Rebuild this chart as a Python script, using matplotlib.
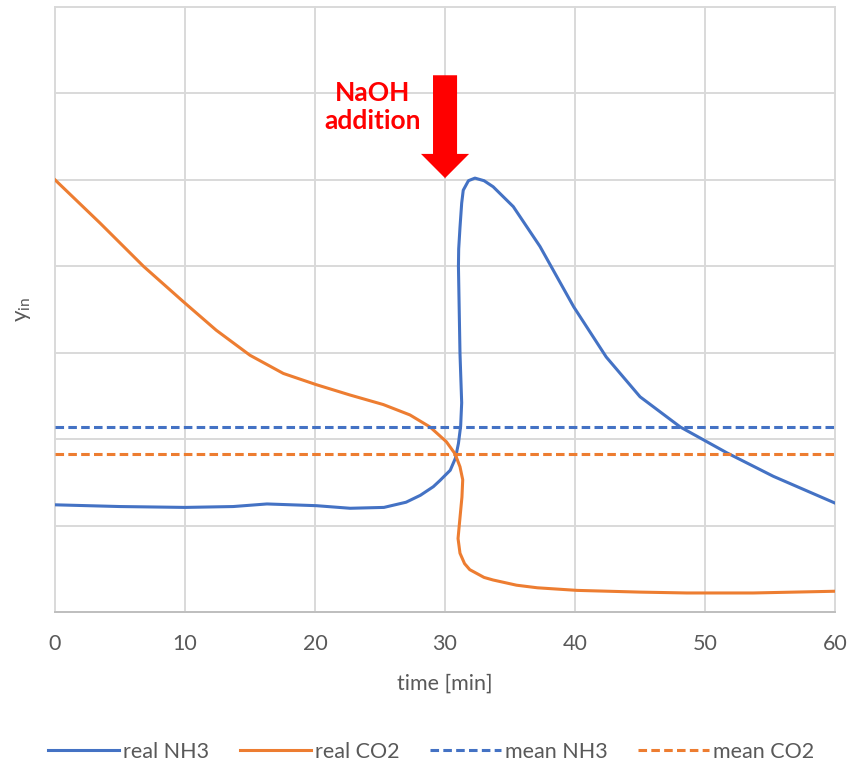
import matplotlib
matplotlib.use('Agg')
import matplotlib.pyplot as plt

# values
nh3_t = [0, 5, 10, 13.7, 16.3, 20.1, 22.7, 25.3, 27.0, 28.1, 29.1, 29.6,
         30.4, 30.8, 31.03, 31.2, 31.28, 31.15, 31.03, 31.05, 31.15, 31.28,
         31.4, 31.8, 32.3, 33.0, 33.7, 35.25, 37.3, 39.9, 42.4, 45.0, 48.1,
         51.7, 55.25, 60]
nh3_y = [1.24, 1.22, 1.21, 1.22, 1.25, 1.23, 1.20, 1.21, 1.27, 1.35, 1.45,
         1.52, 1.64, 1.78, 1.95, 2.15, 2.42, 2.99, 4.0, 4.2, 4.45, 4.73,
         4.88, 4.99, 5.02, 4.99, 4.92, 4.69, 4.23, 3.53, 2.95, 2.49, 2.14,
         1.84, 1.57, 1.26]

co2_t = [0, 3.46, 6.8, 9.87, 12.4, 15, 17.56, 20.1, 22.7, 25.25, 27.3,
         28.85, 30.1, 30.77, 31.15, 31.36, 31.3, 31.08, 31.0, 31.15, 31.5,
         31.9, 33.0, 33.7, 35.5, 37.1, 40.15, 45, 48.6, 53.7, 60]
co2_y = [5.0, 4.50, 4.0, 3.59, 3.26, 2.97, 2.76, 2.63, 2.51, 2.40, 2.28,
         2.14, 1.97, 1.83, 1.68, 1.53, 1.33, 0.98, 0.85, 0.68, 0.56, 0.49,
         0.40, 0.37, 0.31, 0.28, 0.25, 0.23, 0.22, 0.22, 0.24]

mean_t = [0, 60]
mean_nh3 = [2.14, 2.14]
mean_co2 = [1.83, 1.83]

BLUE = '#4472C4'
ORANGE = '#ED7D31'
GREY = '#595959'


def main():
    plt.rcParams['font.family'] = ['Lato', 'DejaVu Sans']

    fig = plt.figure(figsize=(8.52, 7.67), dpi=100)
    ax = fig.add_axes([0.0646, 0.2021, 0.9155, 0.7888])

    ax.plot(nh3_t, nh3_y, color=BLUE, lw=2.2, label='real NH3')
    ax.plot(co2_t, co2_y, color=ORANGE, lw=2.2, label='real CO2')
    ax.plot(mean_t, mean_nh3, color=BLUE, lw=2.2, dashes=(2.8, 1.4),
            label='mean NH3')
    ax.plot(mean_t, mean_co2, color=ORANGE, lw=2.2, dashes=(2.8, 1.4),
            label='mean CO2')

    ax.set_xlim(0, 60)
    ax.set_ylim(0, 7)
    ax.set_xticks(range(0, 61, 10))
    ax.set_yticks(range(0, 8))
    ax.tick_params(axis='x', length=0, labelsize=15.5, labelcolor=GREY,
                   pad=16)
    ax.tick_params(axis='y', length=0, labelleft=False)
    ax.grid(True, color='#D9D9D9', lw=1.4, clip_on=False)
    ax.set_axisbelow(True)
    for side in ['top', 'right', 'left']:
        ax.spines[side].set_visible(False)
    ax.spines['bottom'].set_color('#BFBFBF')
    ax.spines['bottom'].set_linewidth(1.4)

    ax.set_xlabel('time [min]', fontsize=15.5, color=GREY, labelpad=14)
    ax.set_ylabel('y$_{\\mathregular{in}}$', fontsize=16, color=GREY,
                  labelpad=16)

    # NaOH addition marker
    ax.arrow(30, 6.21, 0, -1.19, width=1.85, head_width=3.7,
             head_length=0.28, length_includes_head=True,
             color='#FF0000', lw=0)
    ax.text(24.4, 5.84, 'NaOH\naddition', color='#FF0000', fontsize=19,
            fontweight='bold', ha='center', va='center', linespacing=1.2)

    fig.legend(loc='center', bbox_to_anchor=(0.506, 0.0196), ncol=4,
               frameon=False, fontsize=15.5, handlelength=3.3,
               columnspacing=1.4, handletextpad=0.2, labelcolor=GREY,
               borderaxespad=0, borderpad=0)

    fig.savefig('out.png', dpi=100)


if __name__ == '__main__':
    main()
